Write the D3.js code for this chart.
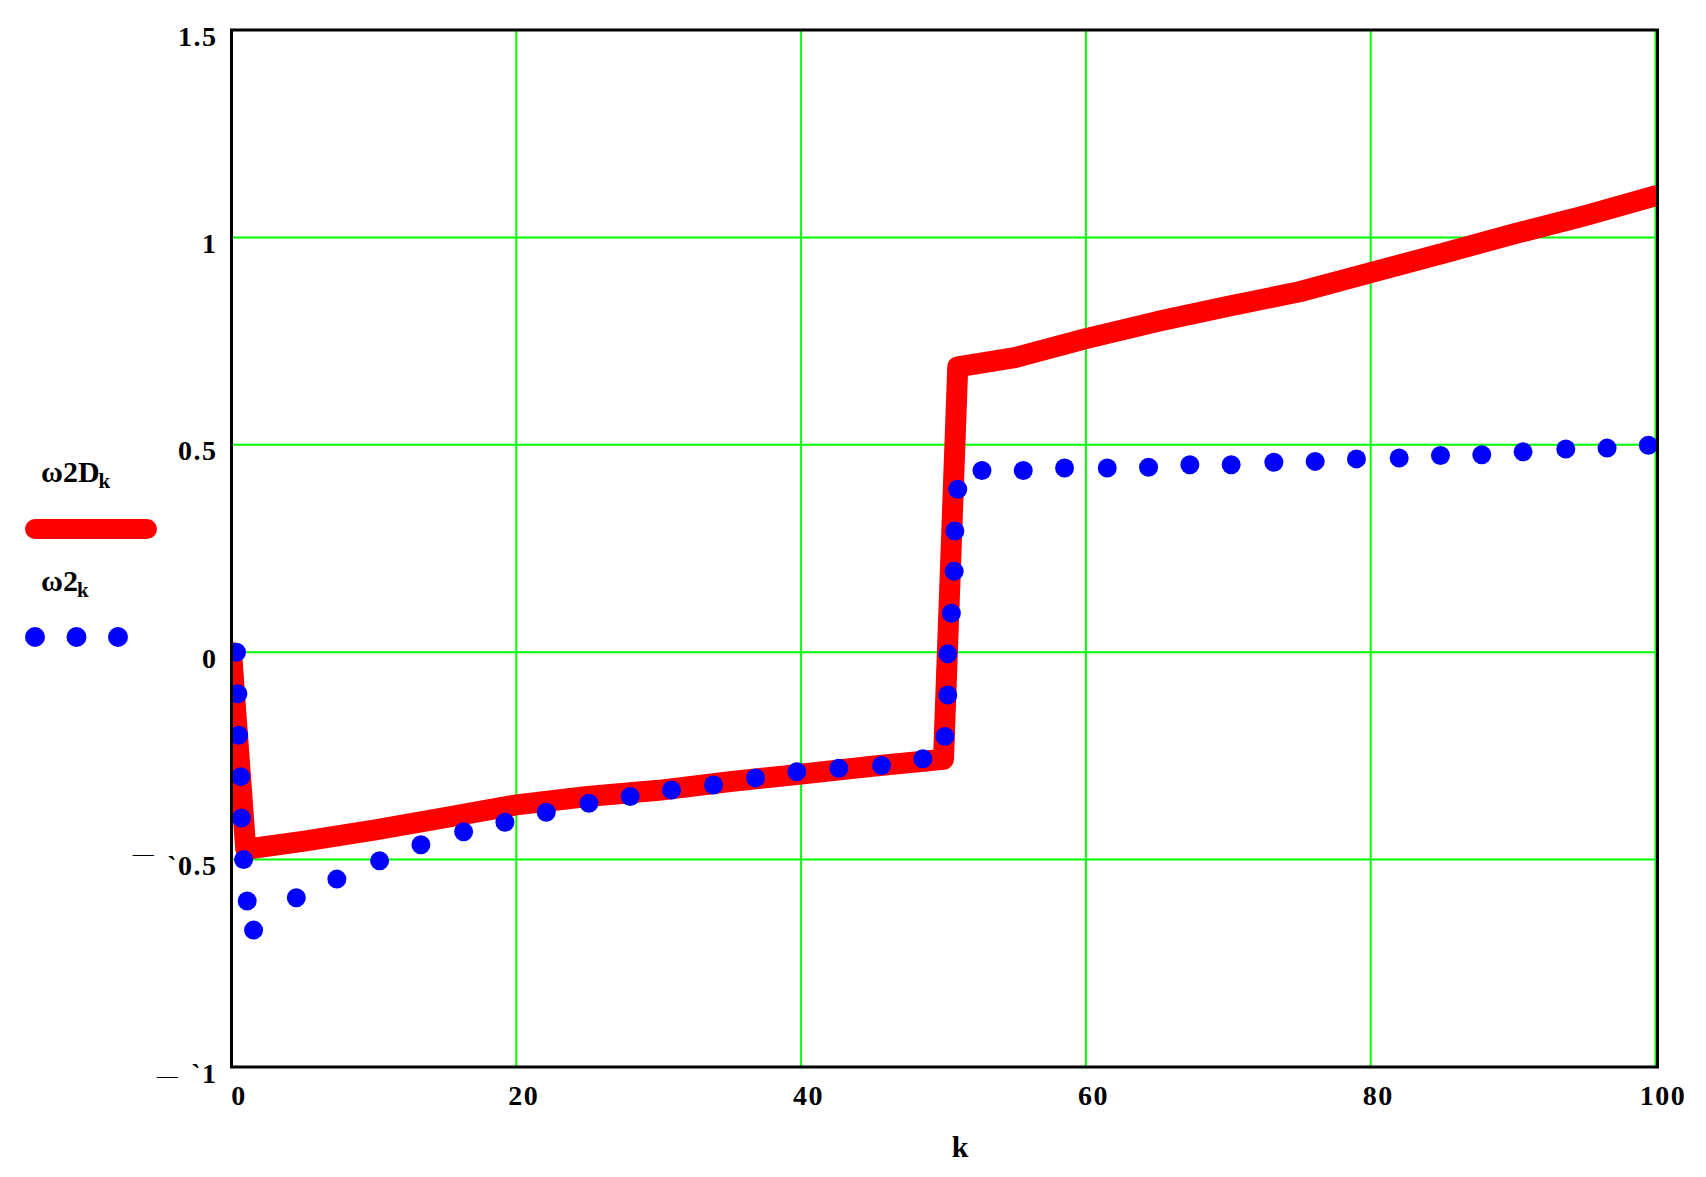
<!DOCTYPE html>
<html>
<head>
<meta charset="utf-8">
<script src="https://cdn.jsdelivr.net/npm/d3@7"></script>
<style>
  body { margin: 0; background: #fff; }
  text { font-family: "Liberation Serif", "Times New Roman", serif; font-weight: bold; fill: #000; }
</style>
</head>
<body>
<div id="chart"></div>
<script>
const WIDTH = 1706, HEIGHT = 1177;
const PLOT = { left: 231.5, right: 1657.5, top: 30, bottom: 1067 };

// axis ticks
const kTicks = [0, 20, 40, 60, 80, 100];
const wTicks = [-1, -0.5, 0, 0.5, 1, 1.5];
const kGrid = [20, 40, 60, 80, 100];
const wGrid = [-0.5, 0, 0.5, 1];

// ω2D_k (red thick line)
const redK = [0, 1, 5, 10, 15, 20, 25, 30, 35, 40, 45, 50, 51, 55, 60, 65, 70, 75, 80, 85, 90, 95, 100];
const redW = [0, -0.475, -0.456, -0.429, -0.399, -0.368, -0.348, -0.333, -0.312, -0.294, -0.275, -0.258,
              0.688, 0.710, 0.756, 0.797, 0.834, 0.869, 0.915, 0.961, 1.008, 1.052, 1.100];

// ω2_k (blue dots)
const blueK = [0.35, 0.45, 0.5, 0.65, 0.7, 0.85, 1.1, 1.55,
               4.55, 7.4, 10.4, 13.3, 16.3, 19.2, 22.1, 25.1, 28, 30.9, 33.85, 36.8, 39.7, 42.65, 45.65, 48.55,
               50.1, 50.3, 50.3, 50.55, 50.75, 50.8, 51.0,
               52.7, 55.6, 58.5, 61.5, 64.4, 67.3, 70.2, 73.2, 76.1, 79.0, 82.0, 84.9, 87.8, 90.7, 93.7, 96.6, 99.5];
const blueW = [0, -0.1, -0.2, -0.3, -0.4, -0.5, -0.6, -0.67,
               -0.592, -0.547, -0.503, -0.464, -0.433, -0.41, -0.386, -0.364, -0.348, -0.332, -0.32, -0.303, -0.288, -0.28, -0.273, -0.257,
               -0.203, -0.103, -0.004, 0.094, 0.195, 0.292, 0.393,
               0.438, 0.438, 0.444, 0.444, 0.446, 0.452, 0.452, 0.458, 0.46, 0.466, 0.468, 0.474, 0.476, 0.483, 0.49, 0.492, 0.499];

const COLOR_RED = "#ff0000";
const COLOR_BLUE = "#0000ff";
const COLOR_GRID = "#00ff00";

const svg = d3.select("#chart")
    .append("svg")
    .attr("width", WIDTH)
    .attr("height", HEIGHT)
    .style("background", "#fff");

const x = d3.scaleLinear().domain([0, 100]).range([PLOT.left, PLOT.right - 2]);
const y = d3.scaleLinear().domain([-1, 1.5]).range([PLOT.bottom, PLOT.top]);

svg.append("clipPath").attr("id", "plot-clip")
    .append("rect")
    .attr("x", PLOT.left).attr("y", PLOT.top)
    .attr("width", PLOT.right - PLOT.left).attr("height", PLOT.bottom - PLOT.top);

// --- Grid ---
svg.append("g").selectAll("line")
    .data(kGrid)
    .join("line")
    .attr("x1", d => x(d)).attr("x2", d => x(d))
    .attr("y1", PLOT.top).attr("y2", PLOT.bottom)
    .attr("stroke", COLOR_GRID).attr("stroke-width", 2);

svg.append("g").selectAll("line")
    .data(wGrid)
    .join("line")
    .attr("x1", PLOT.left).attr("x2", PLOT.right)
    .attr("y1", d => y(d)).attr("y2", d => y(d))
    .attr("stroke", COLOR_GRID).attr("stroke-width", 2);

// --- Series ---
const plot = svg.append("g").attr("clip-path", "url(#plot-clip)");

const line = d3.line()
    .x(d => x(d[0]))
    .y(d => y(d[1]));

plot.append("path")
    .datum(d3.zip(redK, redW))
    .attr("fill", "none")
    .attr("stroke", COLOR_RED)
    .attr("stroke-width", 21)
    .attr("stroke-linejoin", "round")
    .attr("stroke-linecap", "round")
    .attr("d", line);

plot.selectAll(".dot")
    .data(d3.zip(blueK, blueW))
    .join("circle")
    .attr("class", "dot")
    .attr("cx", d => x(d[0]))
    .attr("cy", d => y(d[1]))
    .attr("r", 9.5)
    .attr("fill", COLOR_BLUE);

// --- Frame ---
svg.append("rect")
    .attr("x", PLOT.left).attr("y", PLOT.top)
    .attr("width", PLOT.right - PLOT.left).attr("height", PLOT.bottom - PLOT.top)
    .attr("fill", "none")
    .attr("stroke", "#000")
    .attr("stroke-width", 3);

// --- Axes (labels only, Mathcad style) ---
const xAxis = svg.append("g")
    .attr("transform", `translate(0,${PLOT.bottom})`)
    .call(d3.axisBottom(x).tickValues(kTicks).tickSize(0).tickPadding(18).tickFormat(d3.format("d")));
xAxis.select(".domain").remove();
xAxis.selectAll("text")
    .attr("x", 7)
    .style("font-size", "28px")
    .style("letter-spacing", "1.5px")
    .attr("fill", "#000");

const yAxis = svg.append("g")
    .attr("transform", `translate(${PLOT.left},0)`)
    .call(d3.axisLeft(y).tickValues(wTicks).tickSize(0).tickPadding(14)
        .tickFormat(d => d < 0 ? "`" + Math.abs(d) : String(d)));
yAxis.select(".domain").remove();
yAxis.selectAll("text")
    .attr("dy", null)
    .attr("y", 15)
    .style("font-size", "28px")
    .style("letter-spacing", "1.5px")
    .attr("fill", "#000")
    .each(function (d) {
        if (d >= 0) return;
        const t = d3.select(this);
        const label = t.text();
        const lift = d === -0.5 ? -14 : 0;
        t.text(null);
        t.append("tspan").attr("dy", lift).style("font-size", "21px").style("font-weight", "normal").text("—");
        t.append("tspan").attr("dx", 12).attr("dy", -lift).text(label);
    });

// --- Axis label ---
svg.append("text")
    .attr("x", 960)
    .attr("y", 1157)
    .attr("text-anchor", "middle")
    .style("font-size", "30px")
    .text("k");

// --- Legend ---
const legend = svg.append("g");

const t1 = legend.append("text").attr("x", 41).attr("y", 482).style("font-size", "30px");
t1.append("tspan").text("ω2D");
t1.append("tspan").attr("dy", 6).attr("dx", -1).style("font-size", "21px").text("k");

legend.append("line")
    .attr("x1", 35).attr("x2", 147)
    .attr("y1", 529).attr("y2", 529)
    .attr("stroke", COLOR_RED)
    .attr("stroke-width", 20)
    .attr("stroke-linecap", "round");

const t2 = legend.append("text").attr("x", 41).attr("y", 591).style("font-size", "30px");
t2.append("tspan").text("ω2");
t2.append("tspan").attr("dy", 6).attr("dx", -1).style("font-size", "21px").text("k");

legend.selectAll(".legend-dot")
    .data([35, 76.5, 118])
    .join("circle")
    .attr("class", "legend-dot")
    .attr("cx", d => d)
    .attr("cy", 637)
    .attr("r", 10)
    .attr("fill", COLOR_BLUE);
</script>
</body>
</html>
